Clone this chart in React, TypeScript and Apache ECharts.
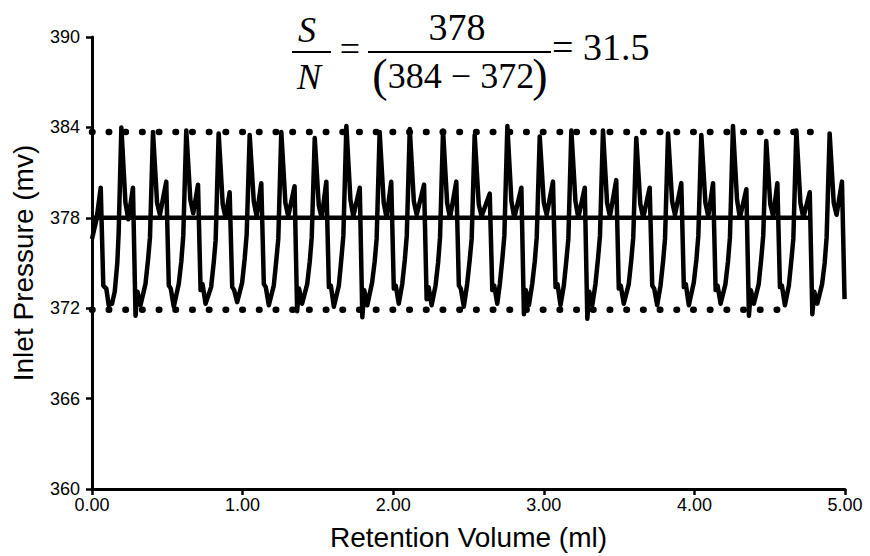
import React, { useEffect, useRef } from "react";
import * as echarts from "echarts";

// Retention volume (ml) vs inlet pressure (mv)
const pressureTrace: [number, number][] = [
  [0.0, 376.6], [0.03, 377.9], [0.058, 380.0], [0.075, 373.5], [0.095, 373.3], [0.111, 372.2], [0.133, 372.3], [0.151, 373.1], [0.168, 375.0], [0.177, 377.0],
  [0.195, 384.0], [0.222, 379.0], [0.241, 377.9], [0.272, 380.0], [0.289, 371.5], [0.302, 373.1], [0.322, 372.2], [0.355, 373.6], [0.372, 375.2], [0.385, 376.7],
  [0.405, 383.7], [0.432, 379.0], [0.451, 378.2], [0.493, 380.4], [0.51, 373.5], [0.523, 373.3], [0.543, 372.1], [0.576, 373.6], [0.593, 375.1], [0.606, 376.8],
  [0.626, 383.8], [0.653, 379.2], [0.672, 378.3], [0.704, 380.2], [0.721, 373.2], [0.734, 373.6], [0.754, 372.3], [0.791, 373.4], [0.808, 375.0], [0.821, 376.5],
  [0.841, 383.6], [0.868, 378.9], [0.887, 378.0], [0.914, 379.7], [0.931, 373.4], [0.944, 373.2], [0.964, 372.4], [0.997, 373.7], [1.014, 375.3], [1.027, 376.9],
  [1.047, 383.5], [1.074, 379.1], [1.093, 378.1], [1.124, 380.3], [1.141, 373.6], [1.154, 373.4], [1.174, 372.2], [1.207, 373.5], [1.224, 375.2], [1.237, 376.6],
  [1.257, 383.7], [1.284, 379.0], [1.303, 378.1], [1.345, 380.1], [1.362, 371.8], [1.375, 373.3], [1.395, 372.3], [1.429, 373.6], [1.446, 375.1], [1.459, 376.7],
  [1.479, 383.3], [1.506, 378.8], [1.525, 378.0], [1.556, 380.4], [1.573, 373.4], [1.586, 373.5], [1.606, 372.1], [1.639, 373.5], [1.656, 375.3], [1.669, 376.8],
  [1.689, 384.1], [1.716, 379.2], [1.735, 378.1], [1.778, 380.0], [1.795, 371.4], [1.808, 373.2], [1.828, 372.2], [1.86, 373.7], [1.877, 375.1], [1.89, 376.6],
  [1.91, 383.7], [1.937, 379.0], [1.956, 378.0], [1.987, 380.4], [2.004, 373.3], [2.017, 373.5], [2.037, 372.3], [2.06, 373.6], [2.077, 375.2], [2.09, 376.8],
  [2.11, 383.9], [2.137, 379.1], [2.156, 378.2], [2.205, 380.2], [2.222, 372.6], [2.235, 373.4], [2.255, 372.2], [2.281, 373.5], [2.298, 375.0], [2.311, 376.7],
  [2.331, 383.8], [2.358, 379.0], [2.377, 378.0], [2.419, 380.4], [2.436, 373.5], [2.449, 373.3], [2.469, 372.1], [2.491, 373.6], [2.508, 375.2], [2.521, 376.6],
  [2.541, 383.5], [2.568, 378.9], [2.587, 378.1], [2.641, 379.6], [2.658, 373.2], [2.671, 373.5], [2.691, 372.3], [2.708, 373.6], [2.725, 375.3], [2.738, 376.8],
  [2.758, 384.1], [2.785, 379.1], [2.804, 378.0], [2.851, 380.0], [2.868, 371.6], [2.881, 373.2], [2.901, 372.2], [2.923, 373.6], [2.94, 375.1], [2.953, 376.7],
  [2.973, 383.4], [3.0, 379.0], [3.019, 378.2], [3.061, 380.4], [3.078, 373.4], [3.091, 373.6], [3.111, 372.2], [3.133, 373.5], [3.15, 375.2], [3.163, 376.6],
  [3.183, 383.8], [3.21, 379.1], [3.229, 378.0], [3.272, 380.0], [3.289, 371.3], [3.302, 373.1], [3.322, 372.2], [3.343, 373.6], [3.36, 375.3], [3.373, 376.8],
  [3.393, 383.8], [3.42, 379.0], [3.439, 378.1], [3.481, 380.5], [3.498, 373.3], [3.511, 373.5], [3.531, 372.3], [3.564, 373.6], [3.581, 375.2], [3.594, 376.7],
  [3.614, 383.3], [3.641, 378.9], [3.66, 378.0], [3.703, 380.0], [3.72, 373.5], [3.733, 373.3], [3.753, 372.2], [3.775, 373.5], [3.792, 375.1], [3.805, 376.6],
  [3.825, 383.6], [3.852, 379.1], [3.871, 378.2], [3.913, 380.3], [3.93, 373.4], [3.943, 373.6], [3.963, 372.2], [3.996, 373.7], [4.013, 375.2], [4.026, 376.8],
  [4.046, 383.5], [4.073, 379.0], [4.092, 378.1], [4.124, 380.3], [4.141, 373.2], [4.154, 373.5], [4.174, 372.3], [4.206, 373.6], [4.223, 375.1], [4.236, 376.7],
  [4.256, 384.1], [4.283, 379.2], [4.302, 378.0], [4.345, 379.9], [4.362, 371.5], [4.375, 373.2], [4.395, 372.3], [4.427, 373.6], [4.444, 375.3], [4.457, 376.8],
  [4.477, 383.1], [4.504, 378.9], [4.523, 378.1], [4.551, 380.3], [4.568, 373.4], [4.581, 373.5], [4.601, 372.2], [4.627, 373.5], [4.644, 375.2], [4.657, 376.6],
  [4.677, 383.8], [4.704, 379.0], [4.723, 378.0], [4.766, 379.7], [4.783, 371.6], [4.796, 373.1], [4.816, 372.3], [4.848, 373.6], [4.865, 375.0], [4.878, 376.7],
  [4.898, 383.6], [4.925, 379.0], [4.944, 378.2], [4.98, 380.4], [4.997, 372.6],
];

const meanLevel: [number, number][] = [[0, 378], [4.772, 378]];
const upperNoise: [number, number][] = [[0, 383.7], [4.772, 383.7]];
const lowerNoise: [number, number][] = [[0, 371.9], [4.556, 371.9]];

const xRange = { min: 0, max: 5, interval: 1 };
const yRange = { min: 360, max: 390, interval: 6 };

const xTitle = "Retention Volume (ml)";
const yTitle = "Inlet Pressure (mv)";

const sansFont = '"Liberation Sans", Arial, sans-serif';
const serif = '"Liberation Serif", "Times New Roman", serif';

export default function App() {
  const ref = useRef<HTMLDivElement>(null);
  useEffect(() => {
    const chart = echarts.init(ref.current!, null, { renderer: "svg" });
    const axisCommon = {
      type: "value",
      splitLine: { show: false },
      axisLine: { show: true, lineStyle: { color: "#000", width: 3 } },
      axisTick: { show: true, length: 6, lineStyle: { color: "#000", width: 2.5 } },
      nameLocation: "middle",
      nameTextStyle: { fontSize: 28, color: "#000", fontFamily: sansFont },
    };
    const txt = (text: string, x: number, y: number, font: string, align = "center") => ({
      type: "text",
      style: {
        text,
        x,
        y,
        font,
        fill: "#000",
        align,
        verticalAlign: "middle",
        textAlign: align,
        textVerticalAlign: "middle",
      },
    });
    const dotted = { color: "#000", width: 6.5, type: [0.5, 16.2], cap: "round" };
    chart.setOption({
      animation: false,
      backgroundColor: "#fff",
      grid: { left: 92, right: 25, top: 37, bottom: 60 },
      xAxis: {
        ...axisCommon,
        ...xRange,
        name: xTitle,
        nameGap: 34,
        axisLabel: {
          formatter: (v: number) => v.toFixed(2),
          fontSize: 18,
          color: "#000",
          fontFamily: sansFont,
          margin: 7,
        },
      },
      yAxis: {
        ...axisCommon,
        ...yRange,
        name: yTitle,
        nameGap: 55,
        axisLabel: {
          fontSize: 18,
          color: "#000",
          fontFamily: sansFont,
          margin: 12,
        },
      },
      series: [
        { type: "line", data: upperNoise, symbol: "none", silent: true, lineStyle: dotted },
        { type: "line", data: lowerNoise, symbol: "none", silent: true, lineStyle: dotted },
        {
          type: "line",
          data: meanLevel,
          symbol: "none",
          silent: true,
          lineStyle: { color: "#000", width: 4.5 },
        },
        {
          type: "line",
          data: pressureTrace,
          symbol: "none",
          silent: true,
          lineStyle: { color: "#000", width: 4.5, join: "round" },
        },
      ],
      graphic: [
        txt("S", 307, 30, `italic 36px ${serif}`),
        { type: "line", shape: { x1: 292, y1: 52, x2: 331, y2: 52 }, style: { stroke: "#000", lineWidth: 2 } },
        txt("N", 309, 77, `italic 36px ${serif}`),
        txt("=", 350, 49, `36px ${serif}`),
        txt("378", 457, 27, `38px ${serif}`),
        { type: "line", shape: { x1: 368, y1: 52, x2: 551, y2: 52 }, style: { stroke: "#000", lineWidth: 2 } },
        txt("(", 380, 75, `46px ${serif}`),
        txt("384 \u2212 372", 461, 76, `36px ${serif}`),
        txt(")", 540, 75, `46px ${serif}`),
        txt("= 31.5", 552, 47, `38px ${serif}`, "left"),
      ],
    });
    return () => chart.dispose();
  }, []);
  return (
    <div
      ref={ref}
      style={{ position: "fixed", left: 0, top: 0, width: 870, height: 556, background: "#fff" }}
    />
  );
}
